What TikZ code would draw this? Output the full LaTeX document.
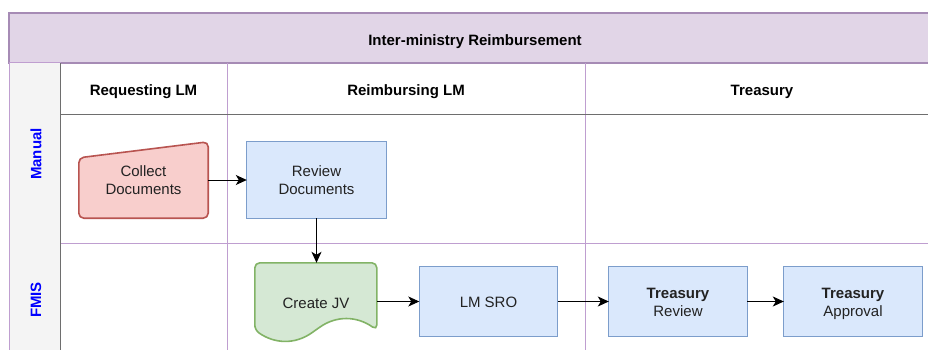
\documentclass[tikz,border=0pt]{standalone}
\usepackage{fontspec}
\setmainfont{Liberation Sans}
\usetikzlibrary{arrows.meta,calc}
\definecolor{titlefill}{HTML}{E1D5E7}
\definecolor{titledraw}{HTML}{A68BB5}
\definecolor{lanec}{HTML}{BF9ED0}
\definecolor{hdrc}{HTML}{6E6E6E}
\definecolor{leftfill}{HTML}{F4F4F4}
\definecolor{redfill}{HTML}{F8CECC}
\definecolor{reddraw}{HTML}{B85450}
\definecolor{bluefill}{HTML}{DAE8FC}
\definecolor{bluedraw}{HTML}{7C9DCB}
\definecolor{greenfill}{HTML}{D5E8D4}
\definecolor{greendraw}{HTML}{82B366}
\definecolor{txt}{HTML}{222222}
\pgfdeclarelayer{back}
\pgfdeclarelayer{mid}
\pgfsetlayers{back,mid,main}
\tikzset{
  lbl/.style={font=\fontsize{15}{18}\selectfont, text=txt, align=center, inner sep=0pt},
  hdr/.style={font=\fontsize{15}{18}\selectfont\bfseries, text=black, inner sep=0pt, anchor=base},
  lanelbl/.style={font=\fontsize{15}{18}\selectfont\bfseries, text=blue, rotate=90, inner sep=0pt},
  txtin/.style={inner sep=0pt, label={[lbl,yshift=-2pt]center:{#1}}},
  shapebox/.style={inner sep=0pt, minimum width=138pt, minimum height=69pt},
  bluebox/.style={draw=bluedraw, fill=bluefill, line width=1.1pt},
  arr/.style={-{Stealth[length=11pt,width=10pt,inset=3pt]}, line width=1pt, black},
  gridline/.style={draw=lanec, line width=1pt},
  darkline/.style={draw=hdrc, line width=1pt}
}
\begin{document}
\begin{tikzpicture}[x=1pt,y=-1pt]
\useasboundingbox (0,0) rectangle (928,350);
\clip (0,0) rectangle (928,350);

% text nodes
\node[hdr] (title) at (475,45.5) {Inter-ministry Reimbursement};
\node[hdr] (h1) at (143.5,96) {Requesting LM};
\node[hdr] (h2) at (406,96) {Reimbursing LM};
\node[hdr] (h3) at (762,96) {Treasury};
\node[lanelbl] (l1) at (36,154) {Manual};
\node[lanelbl] (l2) at (36,300) {FMIS};

\node[txtin={\strut Collect\\\strut Documents}, minimum width=129pt, minimum height=76pt] (cd) at (143.5,180) {};
\node[txtin={\strut Review\\\strut Documents}, minimum width=139pt, minimum height=76pt] (rd) at (316.5,180) {};
\node[txtin={\strut Create JV}, minimum width=122pt, minimum height=78.8pt] (jv) at (316,302.4) {};
\node[shapebox, txtin={\strut LM SRO}] (sro) at (488.5,301.5) {};
\node[shapebox, txtin={\strut\textbf{Treasury}\\\strut Review}] (tr) at (678,301.5) {};
\node[shapebox, txtin={\strut\textbf{Treasury}\\\strut Approval}] (ta) at (853,301.5) {};

% grid
\begin{pgfonlayer}{back}
  \fill[white] (0,0) rectangle (928,350);
  \filldraw[fill=titlefill, draw=titledraw, line width=1.2pt] (9,13) rectangle (960,63);
  \filldraw[fill=leftfill, draw=lanec, line width=1pt] (9,63) rectangle (60,370);
  \draw[gridline] (227,63) -- (227,370);
  \draw[gridline] (585,63) -- (585,370);
  \draw[gridline] (60,243) -- (960,243);
  \draw[darkline] (60,115) -- (960,115);
  \draw[darkline] (60,63) -- (60,370);
\end{pgfonlayer}

% shapes
\begin{pgfonlayer}{mid}
  \filldraw[fill=redfill, draw=reddraw, line width=1.6pt, rounded corners=5pt]
    (cd.south west) -- ($(cd.north west)+(0,16)$) -- (cd.north east) -- (cd.south east) -- cycle;
  \filldraw[bluebox] (rd.south west) rectangle (rd.north east);
  \begin{scope}[shift={(jv.north west)}]
    \filldraw[fill=greenfill, draw=greendraw, line width=1.6pt, rounded corners=5pt]
      (0,67.18) -- (0,0) -- (122,0) -- (122,67.18)
      .. controls (101.67,52.86) and (81.33,52.86) .. (61,67.18)
      .. controls (40.67,81.49) and (20.33,81.49) .. (0,67.18) -- cycle;
  \end{scope}
  \filldraw[bluebox] (sro.south west) rectangle (sro.north east);
  \filldraw[bluebox] (tr.south west) rectangle (tr.north east);
  \filldraw[bluebox] (ta.south west) rectangle (ta.north east);
\end{pgfonlayer}

% connectors
\draw[arr] (cd.east) -- (rd.west);
\draw[arr] (rd.south) -- (rd.south |- jv.north);
\draw[arr] (jv.east |- sro.west) -- (sro.west);
\draw[arr] (sro.east) -- (tr.west);
\draw[arr] (tr.east) -- (ta.west);
\end{tikzpicture}
\end{document}
